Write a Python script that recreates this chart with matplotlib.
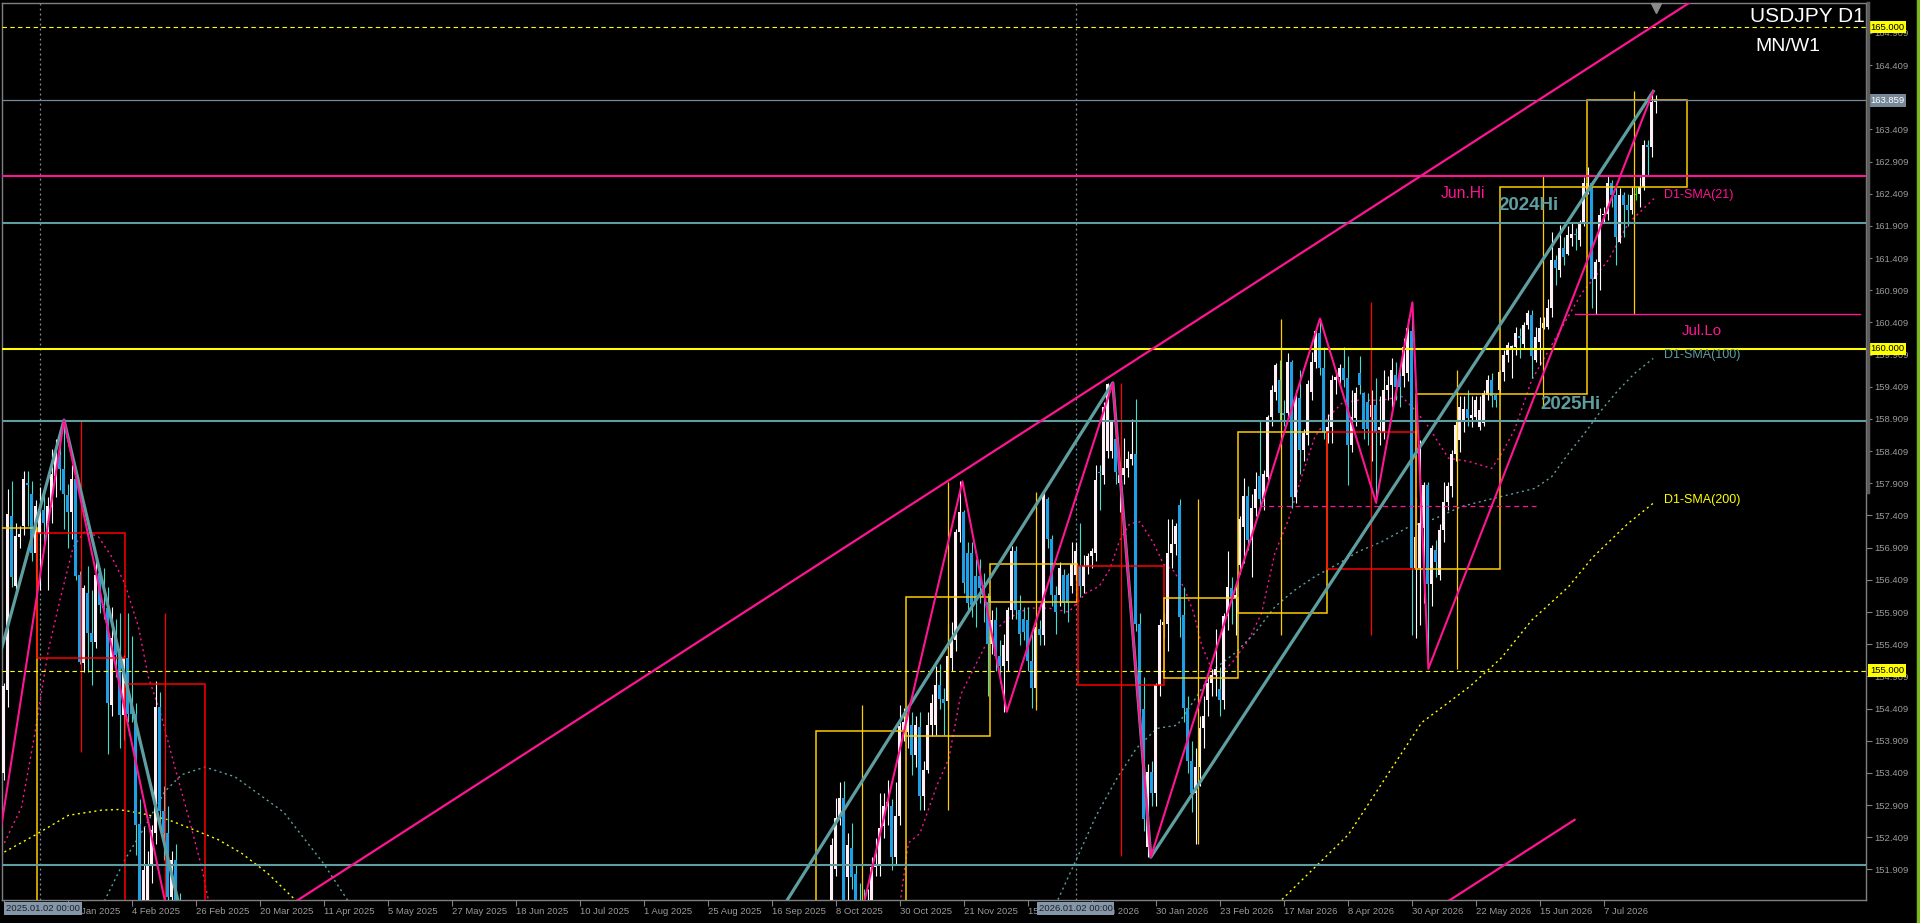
import numpy as np
import matplotlib
matplotlib.use("Agg")
import matplotlib.pyplot as plt
from matplotlib import transforms
from matplotlib.lines import Line2D
from matplotlib.patches import Rectangle

plt.rcParams['font.family'] = ['Liberation Sans', 'DejaVu Sans']

# ---- daily candles, first visible block (starts at bar 0) ----
a_start = 0
a_open = [153.40,154.70,157.40,156.32,157.08,157.25,157.92,157.74,156.82,157.13,
          157.50,157.15,157.54,158.02,158.35,158.13,157.73,157.47,157.97,156.48,
          155.11,156.20,155.58,155.45,156.51,156.02,155.97,154.46,155.50,155.24,
          154.31,155.20,154.50,154.33,152.62,151.20,151.30,152.00,152.47,154.44,
          152.81,152.47,151.48,152.05,150.90]
a_high = [154.80,157.82,157.95,157.30,157.24,158.10,158.10,157.95,157.65,157.85,
          157.80,157.70,158.45,158.60,158.70,158.89,157.90,158.20,158.10,156.55,
          156.33,156.62,156.25,156.72,156.60,156.60,156.30,155.99,155.80,155.89,
          155.24,155.89,155.53,154.49,153.00,152.57,152.20,152.60,154.83,154.67,
          153.20,152.90,152.20,152.30,151.55]
a_low = [153.30,154.44,156.30,156.20,156.90,157.10,157.25,156.70,156.40,156.25,
         157.00,156.25,157.30,157.70,157.80,157.20,156.90,157.05,156.40,155.10,
         154.98,154.98,154.77,155.35,155.90,155.80,153.71,154.30,154.90,153.79,
         153.92,154.20,154.20,152.13,150.90,150.90,150.80,151.70,152.30,152.50,
         152.05,151.40,151.30,150.60,150.20]
a_close = [154.76,157.43,156.46,157.09,157.12,157.98,157.88,156.83,157.55,157.50,
           157.30,157.55,158.05,158.35,158.13,157.75,157.47,157.97,156.47,155.14,
           156.28,155.58,155.45,156.48,156.02,155.97,154.49,155.50,155.24,154.31,
           155.20,154.33,154.33,152.60,151.20,151.90,152.00,152.52,154.44,152.81,
           152.47,151.48,152.05,150.90,150.50]

# ---- daily candles, second block (starts at bar 203) ----
b_start = 203
b_open = [147.90,147.10,147.30,147.50,150.30,151.92,152.71,153.02,151.79,152.24,
          151.84,151.40,151.10,151.00,151.43,151.95,151.97,152.58,152.89,152.89,
          152.10,152.74,154.07,154.05,154.15,153.68,154.13,153.05,153.45,154.15,
          154.15,154.78,154.55,154.52,155.20,155.47,157.15,157.46,156.83,156.83,
          156.47,156.47,156.28,156.07,155.41,155.78,155.23,155.07,155.15,155.94,
          156.86,155.94,155.80,155.78,155.15,154.73,155.65,155.55,157.67,157.04,
          156.18,156.18,156.49,156.49,156.31,156.49,156.62,156.31,156.62,156.78,
          156.83,158.09,158.04,158.41,158.41,158.59,157.91,158.04,158.15,158.28,
          158.36,155.73,154.40,152.26,153.42,153.10,154.78,155.70,155.73,156.83,
          156.96,157.57,155.86,154.42,153.60,153.10,153.50,154.10,154.54,154.80,
          154.93,154.72,154.54,155.84,156.28,156.12,156.64,157.23,157.71,157.03,
          157.52,158.02,157.67,158.01,158.94,159.33,159.51,159.00,159.00,159.80,
          157.70,159.23,158.43,158.66,159.33,159.80,160.24,159.70,158.71,158.79,
          159.51,159.56,159.70,159.54,158.50,158.92,159.62,159.31,159.18,158.94,
          159.13,158.74,158.71,159.36,159.44,159.60,159.57,159.57,159.62,160.27,
          156.59,156.59,157.21,157.88,156.35,156.87,156.48,157.18,157.62,157.86,
          158.37,158.58,158.90,159.07,158.92,158.94,158.79,158.84,159.28,159.51,
          159.28,159.36,159.64,159.90,160.00,160.03,160.20,160.08,160.37,160.52,
          159.83,160.11,160.32,160.34,160.63,161.38,161.22,161.56,161.48,161.72,
          161.79,161.69,161.95,162.44,162.57,161.09,161.35,162.08,162.10,162.57,
          162.39,161.66,162.39,162.23,162.16,162.39,162.41,162.52,163.17,163.14,
          163.84]
b_high = [148.10,147.60,147.80,150.45,152.40,153.02,153.26,153.29,152.47,152.63,
          152.00,151.70,151.60,151.60,152.10,152.40,153.10,153.10,153.30,153.00,
          153.26,154.47,154.42,154.47,154.36,154.30,154.36,153.60,154.36,154.63,
          155.07,155.10,154.73,155.73,155.76,157.20,157.94,157.50,157.00,157.00,
          156.73,156.73,156.52,156.20,155.94,155.99,155.47,155.57,155.99,156.94,
          156.94,156.18,155.99,155.99,155.57,155.78,155.78,157.80,157.70,157.10,
          156.31,156.68,156.57,156.52,156.99,157.00,157.30,156.80,156.83,156.90,
          158.20,158.20,159.17,159.47,158.90,158.80,158.09,158.62,158.41,158.91,
          159.22,155.90,154.90,153.55,153.60,154.80,155.80,155.90,157.36,157.36,
          157.30,157.67,156.30,154.60,153.90,153.80,154.30,154.60,154.90,155.03,
          155.65,155.06,155.90,156.85,156.46,156.35,157.40,157.99,157.86,157.75,
          158.09,158.89,158.12,158.97,159.44,159.78,159.83,159.20,159.93,159.82,
          159.36,159.67,158.76,159.52,159.95,160.32,160.47,160.03,158.99,159.59,
          159.67,159.77,160.03,159.88,159.36,159.41,159.88,159.33,159.31,159.36,
          159.54,159.26,159.67,159.57,159.85,159.80,159.70,160.16,160.47,160.72,
          157.70,158.58,157.93,157.93,156.95,157.03,157.28,157.93,157.93,158.43,
          158.90,159.26,159.26,159.36,159.26,159.26,159.26,159.36,159.59,159.62,
          159.30,159.67,159.98,160.11,160.06,160.34,160.32,160.42,160.60,160.60,
          160.34,160.50,160.50,160.78,161.82,161.46,161.93,161.74,161.90,161.95,
          161.87,162.00,162.67,162.83,162.60,161.40,162.18,162.20,162.70,162.62,
          162.52,162.50,162.44,162.41,162.52,162.52,162.67,163.24,163.24,164.00,
          163.94]
b_low = [146.90,146.80,147.00,147.40,150.10,151.80,152.60,151.00,151.40,151.60,
         151.20,150.90,150.70,150.80,151.20,151.80,151.80,152.40,152.60,151.90,
         152.00,152.60,153.90,153.79,153.37,153.50,152.84,152.84,153.40,153.99,
         154.00,154.40,154.00,154.40,155.00,155.30,157.00,156.20,155.90,155.83,
         155.68,156.05,155.76,154.60,155.26,155.00,154.80,154.36,155.00,155.80,
         155.80,155.40,155.47,155.00,154.42,154.52,155.40,155.40,156.90,156.00,
         155.57,156.00,155.90,155.76,156.20,156.40,156.15,156.20,156.50,156.60,
         156.70,157.50,157.90,158.30,158.30,157.90,157.46,157.90,158.00,158.20,
         155.62,154.10,152.50,152.10,152.90,152.90,154.60,155.50,155.30,156.60,
         156.80,155.52,154.20,153.40,152.80,152.30,153.20,153.80,154.30,154.60,
         154.60,154.30,154.40,155.63,155.73,155.55,156.50,156.67,156.87,156.46,
         157.40,157.50,157.50,157.90,158.80,159.20,158.90,158.80,158.90,157.52,
         157.60,158.06,158.25,158.50,159.20,159.70,159.60,158.60,158.53,158.53,
         159.30,159.40,159.40,157.88,158.40,158.80,159.30,158.60,158.50,158.25,
         157.61,158.50,158.60,159.20,159.10,159.20,159.10,159.40,159.50,155.55,
         155.50,155.70,156.05,155.03,156.00,156.46,156.40,157.00,157.50,157.70,
         158.25,158.40,158.70,158.80,158.79,158.90,158.74,158.80,159.20,159.10,
         159.10,159.30,159.50,159.80,159.55,159.90,159.85,160.00,160.30,159.54,
         159.80,159.75,160.30,160.30,160.50,160.99,161.12,161.30,161.46,161.60,
         161.54,161.60,161.90,162.40,160.63,160.54,160.91,161.95,162.00,162.20,
         161.30,161.64,161.74,161.90,162.10,162.31,162.21,162.47,162.68,162.98,
         163.66]
b_close = [147.10,147.30,147.50,150.30,152.29,152.71,153.02,151.20,152.29,151.79,
           151.43,151.10,151.00,151.40,151.95,152.00,152.55,152.89,152.96,152.10,
           152.74,154.14,154.20,154.23,153.68,154.15,153.05,153.45,154.15,154.50,
           154.78,154.55,154.50,155.23,155.49,157.15,157.46,156.36,156.05,156.02,
           156.05,156.28,156.15,155.41,155.78,155.23,155.07,155.39,155.94,156.86,
           155.94,155.57,155.60,155.15,154.73,155.68,155.55,157.78,157.04,156.18,
           155.91,156.60,156.05,156.05,156.65,156.86,156.31,156.62,156.78,156.86,
           157.96,158.07,159.09,159.46,158.88,158.09,158.04,158.15,158.28,158.36,
           155.73,154.40,152.70,153.42,153.10,154.78,155.70,155.75,156.83,156.96,
           157.25,155.83,154.42,153.60,153.10,153.50,154.10,154.30,154.80,154.93,
           155.03,154.54,155.84,156.30,156.15,156.17,157.36,157.71,157.03,157.52,
           157.82,157.67,158.06,158.94,159.36,159.75,159.00,158.97,159.80,157.70,
           159.25,158.43,158.69,159.46,159.80,160.27,159.70,158.71,158.79,159.51,
           159.56,159.70,159.51,158.50,158.94,159.31,159.44,158.76,158.76,159.13,
           158.71,158.79,159.36,159.44,159.67,159.41,159.41,160.03,160.32,156.59,
           157.08,157.29,157.88,156.35,156.90,156.69,157.18,157.62,157.86,158.37,
           158.82,159.10,159.07,158.92,158.97,159.20,159.05,159.31,159.51,159.26,
           159.20,159.64,159.90,160.06,160.05,160.24,160.16,160.37,160.55,159.88,
           160.19,160.32,160.40,160.63,161.38,161.25,161.56,161.43,161.77,161.79,
           161.77,161.95,162.57,162.57,161.09,161.35,162.08,162.10,162.57,162.39,
           161.74,162.39,162.23,162.16,162.39,162.39,162.52,163.17,163.14,163.84,
           163.86]

# ---- monthly (MN) candles drawn as boxes ----
mn_start = [-12, 8.3, 30.3, 203.2, 225.7, 246.6, 268.6, 290.0, 308.7, 330.9, 353.0, 374.1, 395.8]
mn_end = [8.3, 30.3, 50.3, 225.7, 246.6, 268.4, 290.0, 308.7, 330.9, 353.0, 374.1, 395.8, 420.8]
mn_wick = [-2, 19.3, 40.3, 214.6, 236.1, 258.2, 279.3, 298.5, 319.3, 341.8, 363.3, 384.75, 407.5]
mn_open = [149.60, 157.14, 154.79, 147.90, 153.98, 156.06, 156.63, 154.88, 155.90, 158.71, 156.57, 159.30, 162.51]
mn_high = [158.08, 158.89, 155.89, 154.46, 157.93, 157.77, 159.47, 157.67, 160.47, 160.72, 159.67, 162.69, 164.00]
mn_low = [148.65, 153.73, 149.30, 146.60, 152.84, 154.39, 152.11, 152.30, 155.55, 155.55, 155.03, 159.10, 160.54]
mn_close = [157.21, 155.19, 150.60, 154.06, 156.15, 156.66, 154.78, 156.12, 158.71, 156.57, 159.30, 162.51, 163.86]

# ---- moving averages (bar, value); None splits the pieces ----
sma21_x = [0.2, 4.5, 7.8, 11.2, 14.1, 17.4, 20.3, 23.7, 27, 30.3, 33.7, 36.2, 39.5, 42.8, 46.2, 49.5, 51.2, 53, None,
           222, 224.2, 226.2, 229.1, 233.3, 236.3, 239.3, 243.1, 246.9, 251.1, 256.2, 261.2, 266.3, 270.5,
           273.9, 276.5, 279, 281.5, 284.1, 287.4, 290, 292.5, 295, 297.5, 299.5, 302.8, 307, 311.2, 314.5,
           317.8, 321.2, 324.5, 327.8, 331.2, 334.5, 338.7, 344.5, 349.5, 352.8, 356.2, 361.2, 366.2, 372,
           374.5, 377.8, 382, 388.7, 394.5, 401.2, 406.2, 412.7]
sma21_y = [152.32, 152.88, 154.02, 155.32, 156.10, 156.92, 157.16, 157.08, 156.77, 156.35, 155.68, 154.90, 154.28,
           153.50, 152.73, 151.95, 151.43, 150.90, None,
           151.00, 151.43, 152.32, 152.47, 153.21, 153.63, 154.63, 155.10, 155.57, 155.81, 155.97, 155.97,
           155.91, 156.20, 156.31, 156.57, 157.02, 157.28, 157.31, 156.99, 156.65, 156.55, 156.30, 155.90,
           155.40, 154.90, 155.11, 155.47, 155.89, 156.82, 157.34, 158.01, 158.63, 158.94, 159.15, 159.20,
           159.20, 159.26, 159.05, 158.79, 158.30, 158.25, 158.14, 158.37, 158.75, 159.51, 160.24, 160.86,
           161.38, 161.95, 162.34]
sma100_x = [23, 25.3, 30.3, 35.3, 40.3, 44.5, 50.3, 57.8, 70, 80, 86, 88, None,
            262, 263.8, 268.9, 273.1, 278.2, 283.2, 288.3, 293.4, 297.8, 302.8, 307.8, 312.8, 317.8, 322.8,
            327.8, 333.7, 338.7, 344.5, 351.2, 357.8, 364.5, 372.8, 379.5, 382.8, 387, 391.2, 395.3, 399.5,
            403.7, 407.8, 412.4]
sma100_y = [151.10, 151.43, 152.06, 152.57, 153.12, 153.38, 153.50, 153.35, 152.80, 152.00, 151.43, 151.20, None,
            151.20, 151.47, 152.16, 152.74, 153.31, 153.79, 154.10, 154.15, 154.55, 155.03, 155.27, 155.58,
            155.99, 156.25, 156.46, 156.66, 156.85, 157.00, 157.23, 157.36, 157.55, 157.68, 157.78, 157.83,
            158.01, 158.37, 158.69, 159.05, 159.36, 159.62, 159.85]
sma200_x = [0.2, 7.8, 16.2, 24.5, 28.7, 34.5, 41.2, 47.8, 53.7, 59.5, 66, 73, 75, None,
            318, 319.4, 336.2, 354.5, 366.7, 374.5, 382, 391.2, 397.3, 406.2, 412.8]
sma200_y = [152.18, 152.44, 152.75, 152.83, 152.84, 152.78, 152.68, 152.52, 152.37, 152.16, 151.85, 151.43, 151.30, None,
            151.30, 151.43, 152.45, 154.19, 154.76, 155.20, 155.78, 156.30, 156.76, 157.29, 157.62]

# ---- zigzags and trend lines ----
teal_zz_x = [-2, 15.1, 70, 150, 277.3, 286.8, 412.4]
teal_zz_y = [155.00, 158.89, 144.50, 146.90, 159.47, 152.10, 164.00]
pink_zz_x = [-3, 15.1, 48, 205, 239.7, 250.8, 277.3, 286.8, 329.1, 343.1, 352.2, 356.2, 412.4]
pink_zz_y = [151.60, 158.89, 149.15, 148.70, 157.94, 154.36, 159.47, 152.10, 160.47, 157.61, 160.72, 155.03, 164.00]
upper_tl_x = [70, 430]
upper_tl_y = [151.29, 165.72]
lower_tl_x = [355, 392.75]
lower_tl_y = [151.17, 152.68]

# ---- levels ----
lvl_165, lvl_bid, jun_hi, hi_2024, lvl_160, hi_2025, lvl_155, lvl_low = 165.0, 163.859, 162.69, 161.95, 160.0, 158.87, 155.0, 151.98
jul_lo = 160.54
pink_dash_lvl = 157.55

# ---- axis labels (the ones fully hidden under tags in the original are left blank) ----
price_ticks = [151.909 + 0.5 * k for k in range(27)]
hidden_price_labels = ['163.909']
date_ticks = list(range(0, 401, 16))
date_labels = ['', '13 Jan 2025', '4 Feb 2025', '26 Feb 2025', '20 Mar 2025', '11 Apr 2025',
               '5 May 2025', '27 May 2025', '18 Jun 2025', '10 Jul 2025', '1 Aug 2025', '25 Aug 2025',
               '16 Sep 2025', '8 Oct 2025', '30 Oct 2025', '21 Nov 2025', '15 Dec 2025', '8 Jan 2026',
               '30 Jan 2026', '23 Feb 2026', '17 Mar 2026', '8 Apr 2026', '30 Apr 2026', '22 May 2026',
               '15 Jun 2026', '7 Jul 2026']

TEAL = '#5F9EA0'
PINK = '#FF1493'
GOLD = '#FFCC00'
GREY = '#808080'

fig = plt.figure(figsize=(19.2, 9.23), dpi=100, facecolor='black')
ax = fig.add_axes([2 / 1920, 23 / 923, 1864 / 1920, 897 / 923])
ax.set_facecolor('black')
ax.set_xlim(-0.4, 465.6)
ax.set_ylim(151.434, 165.373)


def draw_candles(start, o, h, l, c):
    o, h, l, c = map(np.asarray, (o, h, l, c))
    x = start + np.arange(len(o))
    up = c > o
    dn = c < o
    wick_col = np.where(up, '#FFFFFF', np.where(dn, '#40E0D0', '#00FF00'))
    body_col = np.where(up, '#FFF0F5', np.where(dn, '#1E9FE6', '#00FF00'))
    ax.vlines(x, l, h, colors=list(wick_col), lw=0.8, zorder=3)
    ax.bar(x, np.maximum(np.abs(c - o), 0.015), bottom=np.minimum(o, c), width=0.72,
           color=list(body_col), lw=0, zorder=3.1)


draw_candles(a_start, a_open, a_high, a_low, a_close)
draw_candles(b_start, b_open, b_high, b_low, b_close)

# monthly boxes
for s, e, w, o, h, l, c in zip(mn_start, mn_end, mn_wick, mn_open, mn_high, mn_low, mn_close):
    col = GOLD if c >= o else '#FF0000'
    ax.add_patch(Rectangle((s, min(o, c)), e - s, abs(c - o), fill=False, ec=col, lw=1.1, zorder=3.5))
    ax.vlines(w, l, h, colors=col, lw=0.9, zorder=3.5)


# moving averages
def none_to_nan(v):
    return np.array([np.nan if t is None else t for t in v], dtype=float)


ax.plot(none_to_nan(sma21_x), none_to_nan(sma21_y), color=PINK, lw=1, ls=(0, (1.5, 2.5)), zorder=2.5)
ax.plot(none_to_nan(sma100_x), none_to_nan(sma100_y), color=TEAL, lw=1, ls=(0, (1.5, 2.5)), zorder=2.5)
ax.plot(none_to_nan(sma200_x), none_to_nan(sma200_y), color='#FFFF00', lw=1, ls=(0, (1.5, 2.5)), zorder=2.5)

# horizontal levels
ax.axhline(lvl_165, color='#FFFF00', lw=0.8, ls=(0, (4, 3)), zorder=4)
ax.axhline(lvl_bid, color='#778899', lw=0.9, zorder=4)
ax.axhline(jun_hi, color=PINK, lw=1.5, zorder=4)
ax.axhline(hi_2024, color=TEAL, lw=1.5, zorder=4)
ax.axhline(lvl_160, color='#FFFF00', lw=1.5, zorder=4)
ax.axhline(hi_2025, color=TEAL, lw=1.5, zorder=4)
ax.axhline(lvl_155, color='#FFFF00', lw=0.8, ls=(0, (4, 3)), zorder=4)
ax.axhline(lvl_low, color=TEAL, lw=1.5, zorder=4)
ax.plot([392.75, 464], [jul_lo, jul_lo], color=PINK, lw=1.0, zorder=4)
ax.plot([314, 383], [pink_dash_lvl, pink_dash_lvl], color=PINK, lw=0.9, ls=(0, (4, 3)), zorder=4)

# zigzags / trend lines
ax.plot(teal_zz_x, teal_zz_y, color=TEAL, lw=2.3, zorder=5)
ax.plot(pink_zz_x, pink_zz_y, color=PINK, lw=1.5, zorder=5.1)
ax.plot(upper_tl_x, upper_tl_y, color=PINK, lw=1.6, zorder=5)
ax.plot(lower_tl_x, lower_tl_y, color=PINK, lw=1.6, zorder=5)

# year separators
for xb in (9, 268):
    ax.axvline(xb, color='#8090A0', lw=0.9, ls=(0, (1.5, 2.5)), zorder=2)

# level / indicator labels
ax.text(359.3, 162.42, 'Jun.Hi', color=PINK, fontsize=11.3, va='center', ha='left', zorder=6)
ax.text(373.8, 162.23, '2024Hi', color=TEAL, fontsize=13.5, fontweight='bold', va='center', ha='left', zorder=6)
ax.text(419.5, 160.28, 'Jul.Lo', color=PINK, fontsize=10.8, va='center', ha='left', zorder=6)
ax.text(384.3, 159.13, '2025Hi', color=TEAL, fontsize=13.5, fontweight='bold', va='center', ha='left', zorder=6)
ax.text(415, 162.39, 'D1-SMA(21)', color=PINK, fontsize=9, va='center', ha='left', zorder=6)
ax.text(415, 159.90, 'D1-SMA(100)', color=TEAL, fontsize=9, va='center', ha='left', zorder=6)
ax.text(415, 157.65, 'D1-SMA(200)', color='#FFFF00', fontsize=9, va='center', ha='left', zorder=6)

ax.text(1 - 1 / 1864, 1 - 4 / 897, 'USDJPY D1', transform=ax.transAxes, color='white',
        fontsize=15, ha='right', va='top', zorder=7)
ax.text(0.9405, 0.951, 'MN/W1', transform=ax.transAxes, color='white', fontsize=14,
        ha='left', va='center', zorder=7)

# shift marker at the top
ax.plot([413], [0.994], marker='v', color='#8A8A8A', markersize=7,
        transform=transforms.blended_transform_factory(ax.transData, ax.transAxes), clip_on=False, zorder=7)

# axes styling
for sp in ax.spines.values():
    sp.set_color(GREY)
    sp.set_linewidth(1)
ax.yaxis.tick_right()
ax.set_yticks(price_ticks)
ax.set_yticklabels(['' if ('%.3f' % p) in hidden_price_labels else '%.3f' % p for p in price_ticks])
ax.tick_params(axis='y', colors=GREY, labelcolor='#9A9A9A', length=4, width=0.8, labelsize=6.8, pad=2)
ax.set_xticks(date_ticks)
ax.set_xticklabels(date_labels, ha='left')
ax.tick_params(axis='x', colors=GREY, labelcolor='#9A9A9A', length=4, width=0.8, labelsize=6.8, pad=1)

# price tags on the scale
ytr = transforms.blended_transform_factory(ax.transAxes, ax.transData)
for p, txt, fc, tc in [(lvl_165, '165.000', '#FFFF00', 'black'), (lvl_160, '160.000', '#FFFF00', 'black'),
                       (lvl_155, '155.000', '#FFFF00', 'black'), (lvl_bid, '163.859', '#778899', 'white')]:
    ax.text(1 + 4 / 1864, p, txt, transform=ytr, fontsize=6.8, color=tc, ha='left', va='center',
            bbox=dict(boxstyle='square,pad=0.18', fc=fc, ec='none'), clip_on=False, zorder=10)

# date boxes for the separators
xtr = transforms.blended_transform_factory(ax.transData, ax.transAxes)
for xb, txt in [(9.8, '2025.01.02 00:00'), (268, '2026.01.02 00:00')]:
    ax.text(xb, -0.0045, txt, transform=xtr, fontsize=6.8, color='#202020', ha='center', va='top',
            bbox=dict(boxstyle='square,pad=0.2', fc='#8496AA', ec='none'), clip_on=False, zorder=10)

# frame extras outside the plot
fig.add_artist(Line2D([1867.5 / 1920] * 2, [(923 - 492) / 923, (923 - 3) / 923],
                      transform=fig.transFigure, color='#5C5C5C', lw=2.5))
fig.add_artist(Line2D([1917.5 / 1920] * 2, [0, 1], transform=fig.transFigure, color='#7AB51D', lw=2.5))

fig.savefig('out.png', dpi=100, facecolor='black')
